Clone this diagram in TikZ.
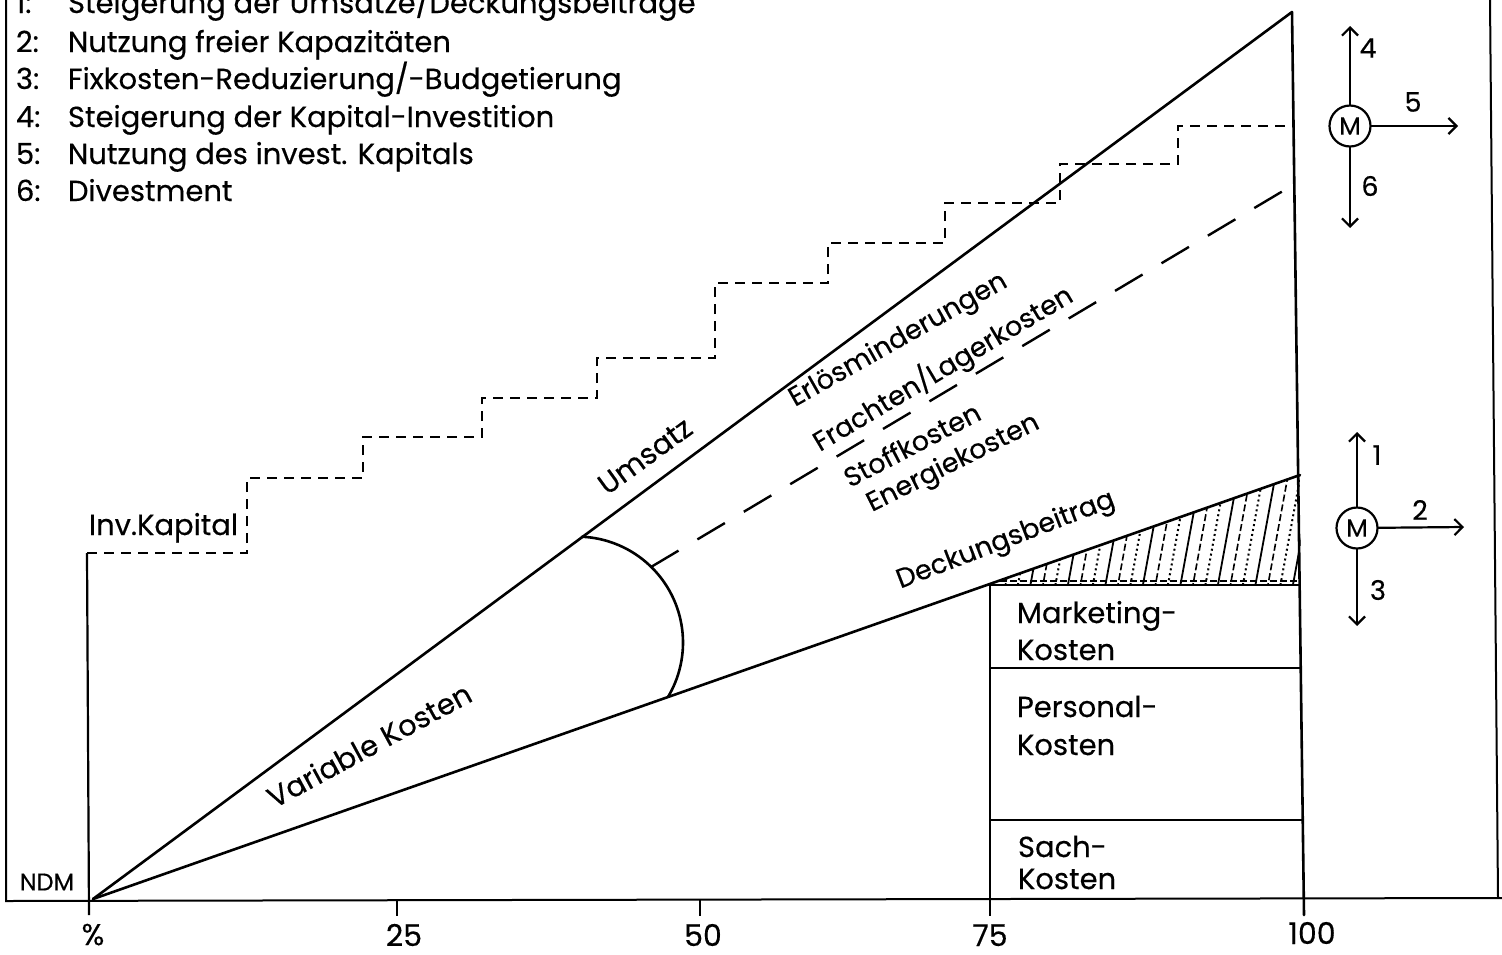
\documentclass[tikz,border=0pt]{standalone}
\usepackage{fontspec}
\setmainfont{Poppins}[FakeBold=0.4]
\usetikzlibrary{arrows.meta}
\begin{document}
\begin{tikzpicture}[x=1pt,y=-1pt,
  every node/.style={inner sep=0pt, outer sep=0pt},
  txt/.style={font=\fontsize{29}{34}\selectfont},
  sltxt/.style={font=\fontsize{27}{32}\selectfont},
  numtxt/.style={font=\fontsize{27}{32}\selectfont},
  axtxt/.style={font=\fontsize{30}{34}\selectfont},
  smalltxt/.style={font=\fontsize{24}{28}\selectfont},
  solidline/.style={line width=2.6pt, line cap=round, line join=round},
  frameline/.style={line width=2pt},
  thinline/.style={line width=2.2pt},
  stair/.style={line width=2.2pt, dash pattern=on 10pt off 7pt},
  longdash/.style={line width=2.4pt, dash pattern=on 32pt off 22pt},
  arr/.style={line width=2.2pt, -{Straight Barb[length=8pt,width=16pt,line width=2.2pt]}},
  mcirc/.style={circle, draw, line width=2.2pt, minimum size=41pt, font=\fontsize{25}{27}\selectfont},
  hatch0/.style={line width=1.8pt},
  hatch1/.style={line width=1.6pt, dash pattern=on 7pt off 3pt},
  hatch2/.style={line width=2pt, dash pattern=on 2pt off 3pt},
]
\useasboundingbox (0,0) rectangle (1502,954);

% outer frame and base line
\coordinate (ftl) at (6,0);
\coordinate (fbl) at (6,901);
\coordinate (fbr) at (1502,898);
\coordinate (rtop) at (1490,0);
\coordinate (rbot) at (1498,898);
\draw[frameline] (ftl) -- (fbl) -- (fbr);
\draw[frameline] (rtop) -- (rbot);

% main rays
\coordinate (O) at (93,899);
\coordinate (U) at (1292,12);
\coordinate (L) at (1300,475);
\coordinate (Rb) at (1304,915);
\draw[solidline] (O) -- (U) -- (Rb);
\draw[solidline] (O) -- (L);

% vertical axis and ticks
\coordinate (Ytop) at (87,553);
\coordinate (Ybot) at (89,915);
\draw[thinline] (Ytop) -- (Ybot);
\coordinate (t25a) at (397,899); \coordinate (t25b) at (397,916);
\coordinate (t50a) at (700,899); \coordinate (t50b) at (700,916);
\draw[thinline] (t25a) -- (t25b);
\draw[thinline] (t50a) -- (t50b);

% fixed cost boxes
\coordinate (b0l) at (987,585);  \coordinate (b0r) at (1299.6,585);
\coordinate (b1l) at (990,668);  \coordinate (b1r) at (1300.7,668);
\coordinate (b2l) at (990,820);  \coordinate (b2r) at (1302.7,820);
\coordinate (bl0) at (990,585);  \coordinate (bl1) at (990,916);
\draw[thinline] (b0l) -- (b0r);
\draw[thinline] (b1l) -- (b1r);
\draw[thinline] (b2l) -- (b2r);
\draw[thinline] (bl0) -- (bl1);

% hatched contribution wedge
\begin{scope}
  \clip (987,585) -- (1300,475) -- (1301,585) -- cycle;
  \foreach \i in {0,...,25} {
    \pgfmathtruncatemacro{\m}{mod(\i,3)}
    \draw[hatch\m] ({992+\i*12.5},590) -- ++(22,-120);
  }
  \draw[hatch1] (990,581) -- (1300,581);
\end{scope}

% arc between the two rays
\draw[solidline] plot[smooth, samples=40, domain=-30.9:87.35]
  ({577+106*cos(\x)},{642.6-106*sin(\x)});

% long dashed ray
\coordinate (D1) at (651,567);
\coordinate (D2) at (1293,185);
\draw[longdash] (D1) -- (D2);

% invested capital staircase
\draw[stair] (Ytop) -- (247,553) -- (247,478) -- (363,478) -- (363,437)
  -- (482,437) -- (482,398) -- (597,398) -- (597,358) -- (715,358)
  -- (715,283) -- (828,283) -- (828,243) -- (945,243) -- (945,203)
  -- (1060,203) -- (1060,164) -- (1178,164) -- (1178,126) -- (1294,126);

% legend
\foreach \n/\yb/\t in {1/13/{Steigerung der Umsätze/Deckungsbeiträge},
                       2/52/{Nutzung freier Kapazitäten},
                       3/89/{Fixkosten-Reduzierung/-Budgetierung},
                       4/127/{Steigerung der Kapital-Investition},
                       5/164/{Nutzung des invest. Kapitals},
                       6/201/{Divestment}} {
  \node[txt, anchor=base west] (legn\n) at (16,\yb) {\n:};
  \node[txt, anchor=base west] (legt\n) at (68,\yb) {\t};
}

% curve labels
\node[txt, rotate=36] (umsatz) at (645,456) {Umsatz};
\node[txt, rotate=28.5] (varko) at (369,745) {Variable Kosten};
\node[sltxt, rotate=21] (deckb) at (1006,541) {Deckungsbeitrag};
\node[sltxt, rotate=29.5, anchor=base west] (erloes) at (795,407) {Erlösminderungen};
\node[sltxt, rotate=30.75, anchor=base west] (fracht) at (820,452) {Frachten/Lagerkosten};
\node[sltxt, rotate=27.5, anchor=base west] (stoff) at (850,488) {Stoffkosten};
\node[sltxt, rotate=26.5, anchor=base west] (energ) at (872,512) {Energiekosten};

% box labels
\node[txt, anchor=base west] (mk1) at (1017,623) {Marketing-};
\node[txt, anchor=base west] (mk2) at (1017,660) {Kosten};
\node[txt, anchor=base west] (pk1) at (1017,717) {Personal-};
\node[txt, anchor=base west] (pk2) at (1017,755) {Kosten};
\node[txt, anchor=base west] (sk1) at (1018,857) {Sach-};
\node[txt, anchor=base west] (sk2) at (1018,889) {Kosten};

% axis labels
\node[txt, anchor=base west] (invk) at (89,535) {Inv.Kapital};
\node[smalltxt] (ndm) at (47,882) {NDM};
\node[axtxt, anchor=base] (x0) at (93,945) {\%};
\node[axtxt, anchor=base] (x25) at (404,946) {25};
\node[axtxt, anchor=base] (x50) at (703,946) {50};
\node[axtxt, anchor=base] (x75) at (990,946) {75};
\node[axtxt, anchor=base] (x100) at (1312,944) {100};

% capital matrix symbol
\node[mcirc] (M1) at (1350,126) {M};
\coordinate (M1u) at (1350,26);
\coordinate (M1d) at (1350,228);
\coordinate (M1r) at (1458,126);
\draw[arr] (M1) -- (M1u);
\draw[arr] (M1) -- (M1d);
\draw[arr] (M1) -- (M1r);
\node[numtxt] (k4) at (1368,48) {4};
\node[numtxt] (k5) at (1413,102) {5};
\node[numtxt] (k6) at (1370,186) {6};

% result matrix symbol
\node[mcirc] (M2) at (1357,528) {M};
\coordinate (M2u) at (1357,432);
\coordinate (M2d) at (1357,626);
\coordinate (M2r) at (1464,527);
\draw[arr] (M2) -- (M2u);
\draw[arr] (M2) -- (M2d);
\draw[arr] (M2) -- (M2r);
\node[numtxt] (k1) at (1377,455) {1};
\node[numtxt] (k2) at (1420,510) {2};
\node[numtxt] (k3) at (1378,590) {3};
\end{tikzpicture}
\end{document}
